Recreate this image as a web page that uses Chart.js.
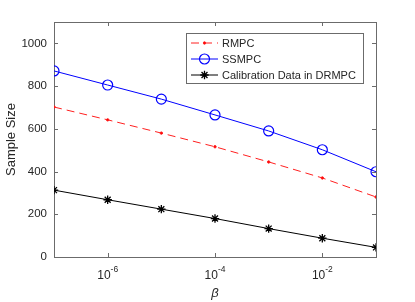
<!DOCTYPE html>
<html>
<head>
<meta charset="utf-8">
<script src="https://cdn.jsdelivr.net/npm/chart.js@4"></script>
<style>
  html, body { margin: 0; padding: 0; background: #fff; }
  #wrap { width: 415px; height: 302px; }
</style>
</head>
<body>
<div id="wrap"><canvas id="sampleChart" width="415" height="302"></canvas></div>
<script>
const betas = [1e-7, 1e-6, 1e-5, 1e-4, 1e-3, 1e-2, 1e-1];
const rmpc = [702, 642, 580, 516, 445, 370, 281];
const ssmpc = [871, 805, 739, 665, 590, 502, 399];
const calibration = [313, 268, 224, 180, 133, 88, 45];
const xTicks = [1e-6, 1e-4, 1e-2];
const xTickExponents = ['-6', '-4', '-2'];
const yTicks = [0, 200, 400, 600, 800, 1000];
const legendLabels = ['RMPC', 'SSMPC', 'Calibration Data in DRMPC'];

const font = "'Liberation Sans', Arial, sans-serif";
const axisColor = '#6b6b6b';
const textColor = '#262626';

function toPoints(values) {
    return values.map((v, i) => ({ x: betas[i], y: v }));
}

// axes box, inner ticks, 10^n labels and the legend drawn like MATLAB
const matlabBox = {
    id: 'matlabBox',
    beforeDatasetsDraw(chart) {
        const { ctx, chartArea: { left, right, top, bottom }, scales: { x, y } } = chart;
        ctx.save();
        ctx.strokeStyle = axisColor;
        ctx.lineWidth = 1;
        ctx.strokeRect(Math.round(left) + 0.5, Math.round(top) + 0.5, Math.round(right - left), Math.round(bottom - top));
        ctx.beginPath();
        yTicks.forEach(v => {
            const py = Math.round(y.getPixelForValue(v)) + 0.5;
            ctx.moveTo(left, py); ctx.lineTo(left + 4, py);
            ctx.moveTo(right, py); ctx.lineTo(right - 4, py);
        });
        xTicks.forEach(v => {
            const px = Math.round(x.getPixelForValue(v)) + 0.5;
            ctx.moveTo(px, bottom); ctx.lineTo(px, bottom - 4);
            ctx.moveTo(px, top); ctx.lineTo(px, top + 4);
        });
        ctx.stroke();

        // x tick labels with superscript exponent
        ctx.fillStyle = textColor;
        ctx.textBaseline = 'alphabetic';
        xTicks.forEach((v, i) => {
            const px = x.getPixelForValue(v);
            ctx.font = '12px ' + font;
            const wBase = ctx.measureText('10').width;
            ctx.font = '8.5px ' + font;
            const wExp = ctx.measureText(xTickExponents[i]).width;
            const start = px - (wBase + wExp) / 2;
            ctx.font = '12px ' + font;
            ctx.fillText('10', start, bottom + 22);
            ctx.font = '8.5px ' + font;
            ctx.fillText(xTickExponents[i], start + wBase, bottom + 15);
        });
        ctx.restore();
    },
    afterDraw(chart) {
        const ctx = chart.ctx;
        const bx = 186.5, by = 33.5, bw = 177, bh = 50;
        ctx.save();
        ctx.fillStyle = '#fff';
        ctx.fillRect(bx, by, bw, bh);
        ctx.strokeStyle = axisColor;
        ctx.lineWidth = 1;
        ctx.strokeRect(bx, by, bw, bh);
        ctx.font = '11px ' + font;
        ctx.textBaseline = 'middle';
        chart.data.datasets.forEach((ds, i) => {
            const ly = 43 + i * 16;
            ctx.strokeStyle = ds.borderColor;
            ctx.lineWidth = ds.borderWidth;
            ctx.setLineDash(ds.borderDash || []);
            ctx.beginPath();
            ctx.moveTo(191, ly); ctx.lineTo(218, ly);
            ctx.stroke();
            ctx.setLineDash([]);
            ctx.fillStyle = ds.backgroundColor;
            ctx.lineWidth = ds.pointBorderWidth;
            Chart.helpers.drawPoint(ctx, {
                pointStyle: ds.pointStyle,
                radius: ds.pointRadius,
                borderWidth: ds.pointBorderWidth
            }, 204.5, ly);
            ctx.fillStyle = textColor;
            ctx.fillText(legendLabels[i], 222, ly + 0.5);
        });
        ctx.restore();
    }
};

const ctx = document.getElementById('sampleChart').getContext('2d');
const myChart = new Chart(ctx, {
    type: 'line',
    data: {
        datasets: [
            {
                label: legendLabels[0],
                data: toPoints(rmpc),
                borderColor: '#ff2020',
                backgroundColor: '#ff0000',
                borderWidth: 1,
                borderDash: [8, 5],
                pointStyle: 'circle',
                pointRadius: 1.2,
                pointBorderWidth: 1
            },
            {
                label: legendLabels[1],
                data: toPoints(ssmpc),
                borderColor: '#0000ff',
                backgroundColor: 'rgba(0,0,0,0)',
                borderWidth: 1,
                pointStyle: 'circle',
                pointRadius: 5,
                pointBorderWidth: 1.2
            },
            {
                label: legendLabels[2],
                data: toPoints(calibration),
                borderColor: '#000000',
                backgroundColor: '#000000',
                borderWidth: 1,
                pointStyle: 'star',
                pointRadius: 4.2,
                pointBorderWidth: 1.3
            }
        ]
    },
    options: {
        responsive: false,
        animation: false,
        layout: { padding: { top: 22, right: 39, left: 0, bottom: 0 } },
        plugins: {
            legend: { display: false },
            tooltip: { enabled: false }
        },
        scales: {
            x: {
                type: 'logarithmic',
                min: 1e-7,
                max: 1e-1,
                grid: { display: false, drawTicks: false },
                border: { display: false },
                afterBuildTicks: scale => { scale.ticks = xTicks.map(v => ({ value: v })); },
                afterFit: scale => { scale.height = 45; },
                ticks: { display: false },
                title: {
                    display: true,
                    text: 'β',
                    color: textColor,
                    font: { family: font, size: 13, style: 'italic' },
                    padding: { top: 0, bottom: 1 }
                }
            },
            y: {
                min: 0,
                max: 1100,
                grid: { display: false, drawTicks: false },
                border: { display: false },
                afterBuildTicks: scale => { scale.ticks = yTicks.map(v => ({ value: v })); },
                afterFit: scale => { scale.width = 54; },
                ticks: {
                    padding: 7,
                    color: textColor,
                    font: { family: font, size: 11.5 },
                    callback: (v) => String(v)
                },
                title: {
                    display: true,
                    text: 'Sample Size',
                    color: textColor,
                    font: { family: font, size: 13 },
                    padding: { top: 4, bottom: 0 }
                }
            }
        }
    },
    plugins: [matlabBox]
});
</script>
</body>
</html>
